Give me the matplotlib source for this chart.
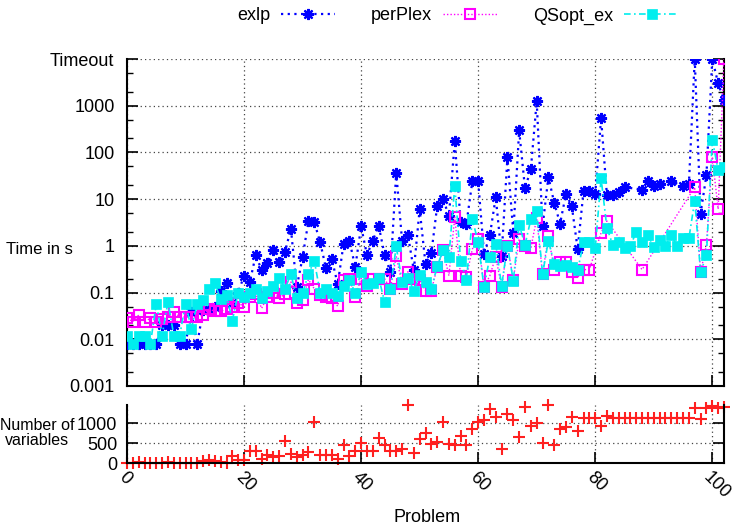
import numpy as np
import matplotlib
matplotlib.use("Agg")
import matplotlib.pyplot as plt
from matplotlib.ticker import FixedLocator, NullFormatter

plt.rcParams['font.family'] = ['Liberation Sans', 'DejaVu Sans']

nan = float('nan')
problems = list(range(103))

exlp = [0.008, 0.008, 0.008, 0.008, 0.008, 0.008, 0.02, 0.02, 0.02, 0.008,
        0.008, 0.039, 0.008, 0.042, 0.042, 0.05, 0.11, 0.16, 0.06, 0.1,
        0.23, 0.17, 0.64, 0.3, 0.44, 0.8, 0.45, 0.74, 2.35, 0.13,
        0.57, 3.4, 3.2, 1.2, 0.33, 0.52, 0.15, 1.1, 1.3, 0.35,
        2.6, 0.64, 1.3, 2.7, 0.65, 0.27, 37, 1.28, 1.7, 0.3,
        6.1, 0.41, 0.7, 7.2, 10, 4.4, 172, 3.3, 3.0, 24,
        24, 0.67, 1.7, 11, 0.61, 79, 1.9, 295, 17, 44,
        1240, 2.6, 30, 8.2, 3.0, 13, 7, 0.85, 15, 14.6,
        13, 540, 12, 12, 14.5, 18, nan, nan, 16, 25,
        19, 21, nan, 24, nan, 19, 21, 1e4, 4.9, 33,
        1e4, 3000, 1300]

perplex = [0.028, 0.024, 0.033, 0.024, 0.028, 0.024, 0.027, 0.03, 0.039, 0.03,
           0.03, 0.03, 0.03, 0.033, 0.044, 0.04, 0.04, 0.044, 0.05, 0.06,
           0.05, 0.082, 0.094, 0.046, 0.082, 0.1, 0.076, 0.094, 0.17, 0.059,
           0.07, 0.19, 0.12, 0.089, 0.08, 0.076, 0.051, 0.19, 0.2, 0.08,
           0.2, 0.14, 0.2, 0.2, 0.2, 0.12, 0.6, 0.15, 0.28, 0.2,
           0.19, 0.11, 0.11, 0.35, 0.8, 0.23, 4.1, 0.23, 0.22, 0.85,
           1.4, 0.13, 0.23, 0.59, 0.13, 1.0, 0.19, 1.4, 1.0, 0.9,
           3.9, 0.25, 1.6, 0.31, 0.46, 0.46, 0.27, 0.21, 0.31, 0.31,
           nan, 1.9, 3.4, nan, nan, nan, nan, nan, 0.31, nan,
           nan, nan, nan, nan, nan, nan, nan, 18, 0.27, 1.05,
           80, 6.1, 1e4]

qsopt = [0.012, 0.008, 0.012, 0.012, 0.008, 0.057, 0.012, 0.064, 0.012, 0.012,
         0.057, 0.017, 0.057, 0.07, 0.12, 0.16, 0.072, 0.089, 0.025, 0.1,
         0.082, 0.097, 0.12, 0.076, 0.11, 0.14, 0.21, 0.12, 0.25, 0.076,
         0.097, 0.25, 0.48, 0.1, 0.12, 0.1, 0.085, 0.14, 0.19, 0.097,
         0.28, 0.15, 0.16, 0.21, 0.064, 0.12, 0.97, 0.17, 0.21, 0.11,
         0.24, 0.17, 0.12, 0.37, 0.8, 0.59, 19, 0.48, 0.19, 3.7,
         1.2, 0.13, 0.59, 1.1, 0.14, 1.0, 0.18, 2.8, 1.05, 3.7,
         5.5, 0.25, 1.3, 0.41, 0.37, 0.39, 0.35, 0.3, 1.18, 1.18,
         0.9, 28, 2.4, 1.05, 1.2, 0.9, 0.98, 2.0, 1.2, 1.7,
         0.94, 1.35, 0.98, 1.7, 0.98, 1.5, 1.45, 9.3, 0.27, 0.64,
         186, 42, 49]

variables = [0, 10, 20, 0, 0, 0, 5, 17, 5, 0,
             0, 0, 5, 42, 83, 42, 17, 10, 167, 83,
             83, 292, 292, 108, 192, 142, 167, 542, 225, 142,
             208, 275, 1025, 192, 208, 192, 108, 458, 167, 292,
             500, 292, 292, 625, 458, 292, 292, 358, 1450, 250,
             610, 750, 475, 517, 1025, 475, 458, 692, 458, 850,
             1025, 1083, 1358, 1167, 358, 1225, 1083, 642, 1400, 933,
             1000, 500, 1450, 458, 850, 917, 1167, 808, 1125, 1125,
             1125, 942, 1192, 1125, 1125, 1125, 1125, 1125, 1125, 1125,
             1125, 1125, 1125, 1125, 1125, 1125, 1125, 1375, 1108, 1375,
             1433, 1392, 1417]

ytick_vals = [0.001, 0.01, 0.1, 1, 10, 100, 1000, 10000]
ytick_labels = ['0.001', '0.01', '0.1', '1', '10', '100', '1000', 'Timeout']
xtick_vals = [0, 20, 40, 60, 80, 100]
vtick_vals = [0, 500, 1000]

W, H = 743, 527
fig = plt.figure(figsize=(W / 100, H / 100), dpi=100)

L, R = 127, 724
ax = fig.add_axes([L / W, 1 - 386 / H, (R - L) / W, (386 - 59) / H])
ax2 = fig.add_axes([L / W, 1 - 463 / H, (R - L) / W, (463 - 405) / H])

x = np.array(problems, dtype=float)

def valid(y):
    y = np.array(y, dtype=float)
    m = ~np.isnan(y)
    return x[m], y[m]

gridkw = dict(color='#444444', linestyle=(0, (1, 2.5)), linewidth=0.9)

xe, ye = valid(exlp)
ax.plot(xe, ye, color='#0000ff', linestyle=(0, (1, 2)), linewidth=1.6,
        marker=(8, 2, 0), markersize=8, markeredgewidth=1.6, label='exlp', zorder=3)
xp, yp = valid(perplex)
ax.plot(xp, yp, color='#ff00ff', linestyle=(0, (1, 1.5)), linewidth=1.0,
        marker='s', markersize=7, markerfacecolor='none', markeredgewidth=1.5,
        label='perPlex', zorder=4)
xq, yq = valid(qsopt)
ax.plot(xq, yq, color='#00eeee', linestyle=(0, (4, 2, 1, 2)), linewidth=1.2,
        marker='s', markersize=7, markeredgewidth=0.5, markeredgecolor='#00eeee',
        label='QSopt_ex', zorder=5)

ax.set_yscale('log')
ax.set_ylim(0.001, 10000)
ax.set_xlim(0, 102)
ax.yaxis.set_major_locator(FixedLocator(ytick_vals))
ax.set_yticklabels(ytick_labels)
minors = [m * v for v in ytick_vals[:-1] for m in (2, 5)]
ax.yaxis.set_minor_locator(FixedLocator(minors))
ax.yaxis.set_minor_formatter(NullFormatter())
ax.set_xticks(xtick_vals)
ax.set_xticklabels([])
ax.grid(True, which='major', **gridkw)
ax.tick_params(axis='y', which='major', direction='in', length=8, width=1.2,
               right=True, labelsize=13, pad=9)
ax.tick_params(axis='y', which='minor', direction='in', length=4, width=1.0, right=True)
ax.tick_params(axis='x', which='major', direction='in', length=8, width=1.2,
               top=False, labelbottom=False)
ax.spines['top'].set_visible(False)
for s in ('left', 'right', 'bottom'):
    ax.spines[s].set_linewidth(1.5)

ax2.plot(x, variables, linestyle='none', marker='+', color='#ff2020',
         markersize=9, markeredgewidth=1.5, clip_on=False)
ax2.set_xlim(0, 102)
ax2.set_ylim(0, 1460)
ax2.set_yticks(vtick_vals)
ax2.set_xticks(xtick_vals)
ax2.grid(True, which='major', **gridkw)
ax2.tick_params(axis='y', direction='in', length=8, width=1.2, right=True,
                labelsize=13, pad=7)
ax2.tick_params(axis='x', direction='in', length=8, width=1.2, labelsize=13, pad=4)
for lab in ax2.get_xticklabels():
    lab.set_rotation(-45)
    lab.set_ha('left')
    lab.set_va('top')
    lab.set_rotation_mode('anchor')
ax2.spines['top'].set_visible(False)
for s in ('left', 'right', 'bottom'):
    ax2.spines[s].set_linewidth(1.5)

fig.text(39 / W, 1 - 250 / H, 'Time in s', ha='center', va='center', fontsize=12)
fig.text(37 / W, 1 - 433 / H, 'Number of\nvariables', ha='center', va='center',
         fontsize=11.5, linespacing=1.05)
fig.text(427 / W, 1 - 517 / H, 'Problem', ha='center', va='center', fontsize=13)

fig.legend(loc='center left', bbox_to_anchor=(228 / W, 1 - 16 / H), ncol=3,
           frameon=False, markerfirst=False, numpoints=1, fontsize=13,
           handlelength=3.0, handletextpad=0.6, columnspacing=2.0, borderpad=0)

fig.savefig('out.png', dpi=100)
